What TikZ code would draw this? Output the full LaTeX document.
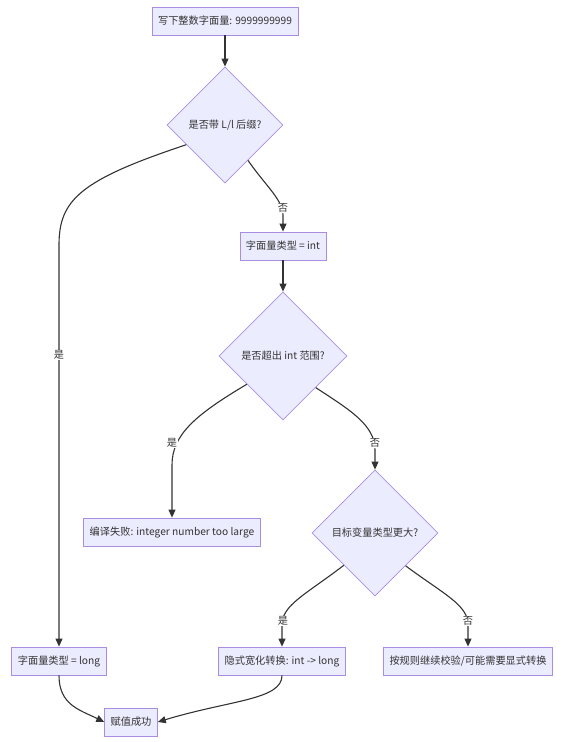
\documentclass[tikz,border=0pt]{standalone}
\usepackage{fontspec}
\setmainfont{Noto Sans CJK SC}
\usetikzlibrary{shapes.geometric,arrows.meta}
\definecolor{nodefill}{HTML}{ECECFF}
\definecolor{nodeline}{HTML}{9370DB}
\definecolor{ink}{HTML}{333333}
\tikzset{
  box/.style={rectangle,fill=nodefill,draw=nodeline!80,line width=0.8pt,minimum height=28pt,inner xsep=6pt,inner ysep=0pt,text=ink,font=\fontsize{10.2}{12}\selectfont},
  dia/.style={diamond,aspect=1,fill=nodefill,draw=nodeline!80,line width=0.8pt,inner sep=0pt,text=ink,font=\fontsize{10.2}{12}\selectfont},
  arr/.style={draw=ink,line width=1.1pt,-{Triangle[length=8pt,width=7pt]}},
  lbl/.style={fill=white,inner sep=1pt,text=ink,font=\fontsize{10.2}{12}\selectfont}
}
\begin{document}
\begin{tikzpicture}[x=1pt,y=-1pt]
\useasboundingbox (0,0) rectangle (571,742);
\node[box] (A) at (225,21) {写下整数字面量: 9999999999};
\node[dia,minimum size=116pt] (B) at (225,125) {是否带 L/l 后缀?};
\node[box] (C) at (283,246) {字面量类型 = int};
\node[dia,minimum size=128pt] (D) at (283,356) {是否超出 int 范围?};
\node[box] (E) at (172,532) {编译失败: integer number too large};
\node[dia,minimum size=126pt] (F) at (375,533) {目标变量类型更大?};
\node[box] (G) at (59,661) {字面量类型 = long};
\node[box] (H) at (282,661) {隐式宽化转换: int -> long};
\node[box] (I) at (468,661) {按规则继续校验/可能需要显式转换};
\node[box] (J) at (131,722) {赋值成功};

\draw[arr] (A) -- (B);
\draw[arr] (B.207) .. controls (80,180) and (59,200) .. (59,245) -- (G.north);
\draw[arr] (B.303) .. controls (265,185) and (283,200) .. (283,215) -- (C.north);
\draw[arr] (C) -- (D);
\draw[arr] (D.218) .. controls (195,415) and (172,435) .. (172,465) -- (E.north);
\draw[arr] (D.316) .. controls (350,410) and (375,425) .. (375,450) -- (F.north);
\draw[arr] (F.226) .. controls (305,595) and (282,605) .. (282,625) -- (H.north);
\draw[arr] (F.313) .. controls (445,595) and (468,605) .. (468,625) -- (I.north);
\draw[arr] (G.south) .. controls (59,705) and (80,710) .. (J.west);
\draw[arr] (H.south) .. controls (282,700) and (230,700) .. (J.east);

\node[lbl] (l1) at (59,355) {是};
\node[lbl] (l2) at (283,208) {否};
\node[lbl] (l3) at (172,443) {是};
\node[lbl] (l4) at (375,443) {否};
\node[lbl] (l5) at (283,621) {是};
\node[lbl] (l6) at (468,621) {否};
\end{tikzpicture}
\end{document}
